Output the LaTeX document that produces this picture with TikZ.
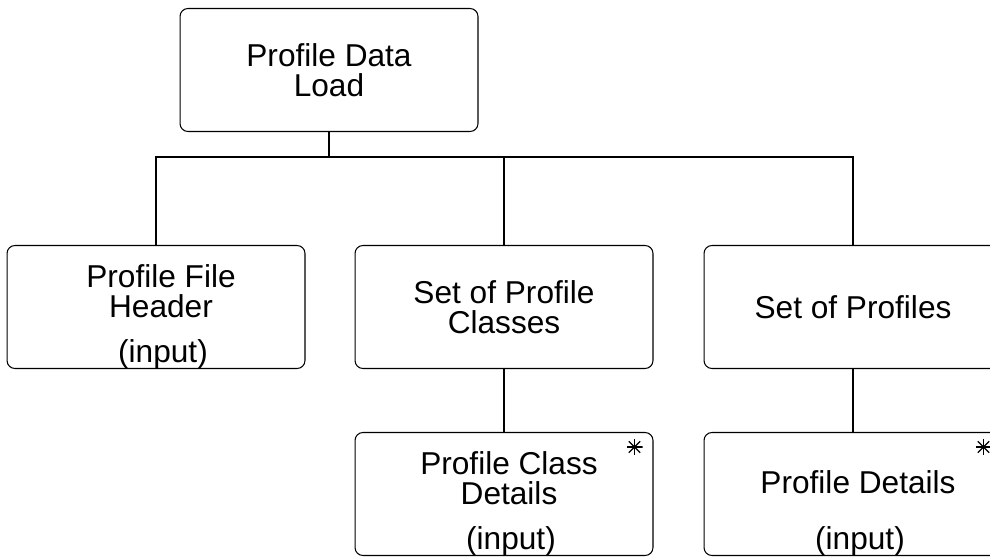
\documentclass[tikz,border=0pt]{standalone}
\usepackage{fontspec}
\setmainfont{Liberation Sans}
\usetikzlibrary{positioning,calc}

\begin{document}
\begin{tikzpicture}[
    x=0.02cm, y=-0.02cm,
    font=\fontsize{18pt}{17pt}\selectfont,
    box/.style={draw, line width=0.6pt, rounded corners=4.5pt,
                minimum width=5.96cm, minimum height=2.46cm, align=center},
    title/.style={align=center, inner sep=0pt, xshift=0.1cm},
    inp/.style={inner sep=0pt, anchor=south, xshift=0.14cm},
    many/.style={minimum size=0.32cm, inner sep=0pt, path picture={
        \foreach \a in {0,45,90,135}
          \draw[line width=0.7pt] (path picture bounding box.center)
            ++(\a:0.16cm) -- ++(\a+180:0.32cm);}},
    link/.style={line width=0.6pt},
  ]
    \useasboundingbox (0,0) rectangle (990,557);
    \clip (0,0) rectangle (990,557);

    \node[box] (load) at (329,70) {Profile Data\\Load};

    \node[box] (hdr)      at (156,307) {};
    \node[box] (classes)  at (504,307) {Set of Profile\\Classes};
    \node[box] (profiles) at (853,307) {Set of Profiles};

    \node[box] (clsdet) at (504,494) {};
    \node[box] (prfdet) at (853,494) {};

    % titles and (input) marks of the data boxes
    \node[title, below=0.38cm of hdr.north]    (hdrtxt) {Profile File\\Header};
    \node[inp] (hdrin) at (hdr.south) {(input)};
    \node[title, below=0.38cm of clsdet.north] (clstxt) {Profile Class\\Details};
    \node[inp] (clsin) at (clsdet.south) {(input)};
    \node[title, below=0.76cm of prfdet.north] (prftxt) {Profile Details};
    \node[inp] (prfin) at (prfdet.south) {(input)};

    % iteration marks
    \node[many] (clsmany) at ($(clsdet.north east)+(-19,15)$) {};
    \node[many] (prfmany) at ($(prfdet.north east)+(-19,15)$) {};

    % tree
    \coordinate (bus) at (329,157);
    \draw[link] (load.south) -- (bus);
    \draw[link] (hdr.north) |- (bus) -| (profiles.north);
    \draw[link] (classes.north) -- (classes.north |- bus);
    \draw[link] (classes.south) -- (clsdet.north);
    \draw[link] (profiles.south) -- (prfdet.north);
\end{tikzpicture}
\end{document}
